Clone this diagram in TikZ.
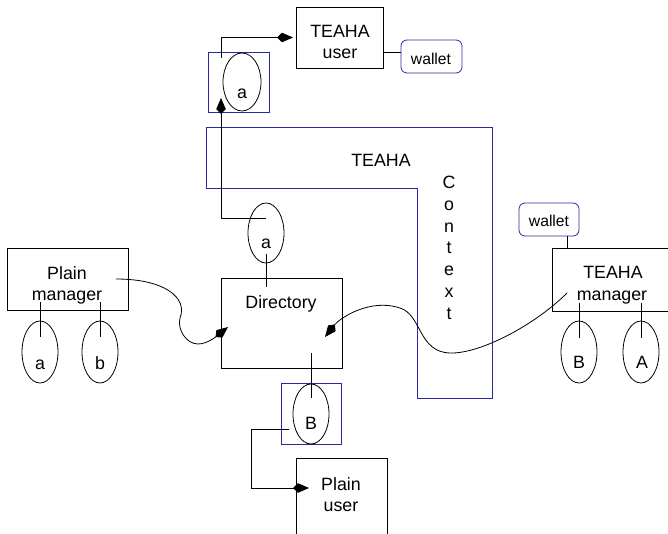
\documentclass[tikz,border=0pt]{standalone}
\usepackage{fontspec}
\setmainfont{Liberation Sans}
\usetikzlibrary{shapes.geometric,arrows.meta}
\definecolor{ctxblue}{RGB}{40,40,165}
\begin{document}
\begin{tikzpicture}[x=1pt,y=-1pt,
  every node/.style={inner sep=0pt, outer sep=0pt},
  lbl/.style={anchor=base, font=\fontsize{17.8pt}{21pt}\selectfont},
  lblsmall/.style={anchor=base, font=\fontsize{15.7pt}{18pt}\selectfont},
  box/.style={draw, line width=0.8pt, rectangle},
  bluebox/.style={draw=ctxblue, line width=0.8pt, rectangle},
  wallet/.style={draw=ctxblue, line width=0.8pt, rectangle, rounded corners=6pt},
  port/.style={draw, line width=0.8pt, ellipse, minimum width=36pt, minimum height=60pt},
  wire/.style={line width=0.8pt},
  arr/.style={wire, -{Kite[length=16pt,width=9.5pt,inset=5pt]}}
]
\useasboundingbox (0,0) rectangle (668,534);
\clip (0,0) rectangle (668,534);

% TEAHA context region (L-shaped)
\draw[ctxblue, line width=0.8pt] (206,127) -- (492,127) -- (492,398) -- (417,398) -- (417,188) -- (206,188) -- cycle;
\node[lbl] (ctxname) at (381,166.7) {TEAHA};
\node[lbl, anchor=north, align=center, font=\fontsize{17.8pt}{21.8pt}\selectfont] (ctxword) at (449,176) {C\\o\\n\\t\\e\\x\\t};

% TEAHA user with its wallet and port a
\node[box, minimum width=87pt, minimum height=61pt] (tu) at (339.5,37.5) {};
\node[lbl] (tuA) at (340,37.3) {TEAHA};
\node[lbl] (tuB) at (340,58.3) {user};
\node[wallet, minimum width=61pt, minimum height=33pt] (wt) at (431.5,56.5) {};
\node[lblsmall] (wtT) at (431,64.3) {wallet};
\node[bluebox, minimum width=61pt, minimum height=60pt] (ba) at (238.5,82) {};
\node[port, minimum width=38pt, minimum height=58pt] (ea1) at (242,82) {};
\node[lbl] (ea1T) at (242,98.3) {a};

% Directory with ports a and B
\node[box, minimum width=121pt, minimum height=90pt] (dir) at (281.5,323) {};
\node[lbl] (dirT) at (281,308.3) {Directory};
\node[port] (ea2) at (266,233) {};
\node[lbl] (ea2T) at (266,248.3) {a};
\node[bluebox, minimum width=60pt, minimum height=61pt] (bb) at (311,413.5) {};
\node[port] (eb1) at (311,414) {};
\node[lbl] (eb1T) at (311,429) {B};

% Plain user
\node[box, minimum width=91pt, minimum height=82pt] (pu) at (341.5,499) {};
\node[lbl] (puA) at (341,490) {Plain};
\node[lbl] (puB) at (341,511.7) {user};

% Plain manager with ports a, b
\node[box, minimum width=121pt, minimum height=62pt] (pm) at (67.5,279) {};
\node[lbl] (pmA) at (67,279) {Plain};
\node[lbl] (pmB) at (67,300) {manager};
\node[port, minimum height=62pt] (eal) at (40,352) {};
\node[lbl] (ealT) at (40,369) {a};
\node[port, minimum height=62pt] (ebl) at (100,352) {};
\node[lbl] (eblT) at (100,369) {b};

% TEAHA manager with wallet and ports B, A
\node[box, minimum width=128pt, minimum height=63pt] (tm) at (616,279.5) {};
\node[lbl] (tmA) at (613,278.3) {TEAHA};
\node[lbl] (tmB) at (612,300) {manager};
\node[wallet, minimum width=60pt, minimum height=33pt] (wr) at (549,219.5) {};
\node[lblsmall] (wrT) at (549,226.7) {wallet};
\node[port, minimum height=62pt] (ebr) at (579,352) {};
\node[lbl] (ebrT) at (579,368.3) {B};
\node[port, minimum height=62pt] (ear) at (641,352) {};
\node[lbl] (earT) at (642,368.3) {A};

% attachments
\draw[wire] ([yshift=-14.5pt]tu.east) -- ([yshift=-14.5pt]tu.east -| wt.west);
\draw[wire] ([xshift=18pt]wr.south) -- ([xshift=18pt]wr.south |- tm.north);
\draw[wire] ([yshift=8pt]pm.south -| eal) -- ([yshift=15pt]eal.center);
\draw[wire] ([yshift=8pt]pm.south -| ebl) -- ([yshift=15pt]ebl.center);
\draw[wire] ([yshift=8.3pt]tm.south -| ebr) -- ([yshift=14pt]ebr.center);
\draw[wire] ([yshift=8.3pt]tm.south -| ear) -- ([yshift=14pt]ear.center);
\draw[wire] ([yshift=-21pt]ea2.center) -- ([yshift=-9pt]dir.north -| ea2);
\draw[wire] ([yshift=15pt]dir.south -| eb1) -- ([yshift=16pt]eb1.center);

% bindings
\draw[arr] ([yshift=15pt]ea2.center) -| ([xshift=-17.5pt,yshift=14pt]ba.south);
\draw[arr, shorten >=3pt] ([xshift=-17.5pt,yshift=24pt]ba.center) |- (tu.west);
\draw[arr] ([xshift=-22pt,yshift=-15pt]eb1.center) -- ++(-38pt,0pt) |- ([xshift=13pt,yshift=11pt]pu.west);

% manager links into the directory
\draw[arr] ([xshift=-12pt]pm.east) .. controls (165,279) and (188,298) .. (180,318)
  .. controls (177,329) and (186,344) .. (198,344)
  .. controls (208,344) and (218,335) .. ([xshift=7pt,yshift=-4pt]dir.west);
\draw[arr] ([xshift=-49pt,yshift=-13.5pt]tm.center) .. controls (535,325) and (480,354) .. (450,353)
  .. controls (418,352) and (422,315) .. (400,308)
  .. controls (370,298) and (340,318) .. ([xshift=43.5pt,yshift=-14pt]dir.center);
\end{tikzpicture}
\end{document}
